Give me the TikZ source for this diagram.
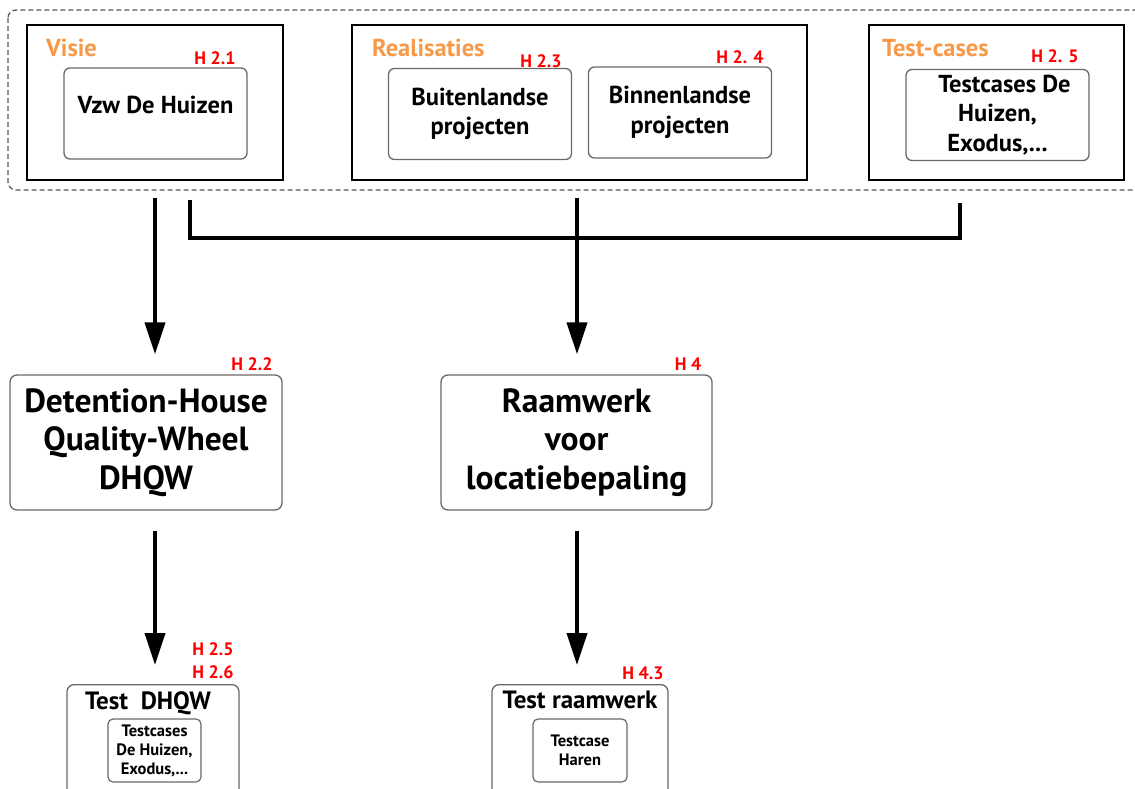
\documentclass[tikz,border=0pt]{standalone}
\usepackage{fontspec}
\setmainfont{PT Sans}
\usetikzlibrary{arrows.meta}
\definecolor{hdorange}{RGB}{247,153,72}
\definecolor{hdred}{RGB}{255,0,0}
\definecolor{boxgray}{RGB}{105,105,105}
\begin{document}
\begin{tikzpicture}[x=1pt,y=-1pt,
        framebox/.style={draw=black,line width=1.6pt,inner sep=0pt,minimum height=155pt},
        itembox/.style={draw=boxgray,line width=1.3pt,rounded corners=6pt,minimum width=183pt,minimum height=91pt,align=center,font=\fontsize{24.5}{29.5}\selectfont\bfseries},
        bigbox/.style={draw=boxgray,line width=1.3pt,rounded corners=7pt,minimum width=271pt,minimum height=135pt,align=center,font=\fontsize{33.5}{38.5}\selectfont\bfseries},
        testbox/.style={draw=boxgray,line width=1.3pt,rounded corners=7pt,minimum height=130pt,anchor=north},
        casebox/.style={draw=boxgray,line width=1.2pt,rounded corners=5pt,minimum width=93pt,minimum height=63pt,align=center,font=\fontsize{16.5}{19}\selectfont\bfseries},
        testtitle/.style={inner sep=0pt,font=\fontsize{25}{28}\selectfont\bfseries},
        grouplabel/.style={text=hdorange,anchor=base west,inner sep=0pt,font=\fontsize{24.5}{28}\selectfont\bfseries},
        chapter/.style={text=hdred,inner sep=0pt,font=\fontsize{18}{21}\selectfont\bfseries},
        flow/.style={line width=4pt,-{Triangle[length=32pt,width=20pt]}},
        bracket/.style={line width=4pt}]
    \useasboundingbox (0,0) rectangle (1135,789);
    \clip (0,0) rectangle (1135,789);
    %% sources
    \draw[draw=black!65,line width=1.3pt,dash pattern=on 5pt off 3pt,rounded corners=8pt] (8,10) rectangle (1150,190);
    \node[framebox,minimum width=256pt] (visie) at (155,102.5) {};
    \node[grouplabel] (visielbl) at (46,57) {Visie};
    \node[itembox,text depth=18pt] (vzw) at (155.5,113.5) {Vzw De Huizen};
    \node[chapter] (h21) at (215,58) {H 2.1};
    \node[framebox,minimum width=455pt] (real) at (579.5,102.5) {};
    \node[grouplabel] (reallbl) at (372,57) {Realisaties};
    \node[itembox] (buiten) at (480,114) {Buitenlandse\\projecten};
    \node[itembox] (binnen) at (680,112.5) {Binnenlandse\\projecten};
    \node[chapter] (h23) at (541,61) {H 2.3};
    \node[chapter] (h24) at (740,57) {H 2. 4};
    \node[framebox,minimum width=255pt] (cases) at (996.5,102.5) {};
    \node[grouplabel] (caseslbl) at (882,57) {Test-cases};
    \node[itembox] (testcases) at (997.5,115) {\hspace*{14pt}Testcases De\\Huizen,\\Exodus,...};
    \node[chapter] (h25a) at (1055,56) {H 2. 5};
    %% frameworks
    \node[bigbox,minimum width=272pt] (dhqw) at (146,442.5) {Detention-House\\Quality-Wheel\\DHQW};
    \node[chapter] (h22) at (252,364) {H 2.2};
    \node[bigbox] (raam) at (576.5,442.5) {Raamwerk\\voor\\locatiebepaling};
    \node[chapter] (h4) at (688,364) {H 4};
    %% tests
    \node[testbox,minimum width=172pt] (tdhqw) at (153,684) {};
    \node[testtitle] (tdhqwlbl) at (148,703) {Test~~DHQW};
    \node[casebox] (tdhqwcase) at (154.5,750.5) {Testcases\\De Huizen,\\Exodus,...};
    \node[chapter] (h25b) at (213,649) {H 2.5};
    \node[chapter] (h26) at (213,672) {H 2.6};
    \node[testbox,minimum width=176pt] (traam) at (580,684) {};
    \node[testtitle] (traamlbl) at (580,700) {Test raamwerk};
    \node[casebox,minimum width=94pt] (traamcase) at (580,750.5) {Testcase\\Haren};
    \node[chapter] (h43) at (643,673) {H 4.3};
    %% connectors
    \coordinate (left) at (155,198);
    \coordinate (mid) at (577,198);
    \coordinate (bl) at (190,200);
    \coordinate (br) at (960,203);
    \draw[flow,shorten >=20pt] (left) -- (left |- dhqw.north);
    \draw[flow,shorten >=20pt] (mid) -- (mid |- raam.north);
    \draw[bracket] (bl) -- ++(0,38) -| (br);
    \draw[flow,shorten <=20pt,shorten >=19pt] (left |- dhqw.south) -- (left |- tdhqw.north);
    \draw[flow,shorten <=20pt,shorten >=19pt] (mid |- raam.south) -- (mid |- traam.north);
\end{tikzpicture}
\end{document}
